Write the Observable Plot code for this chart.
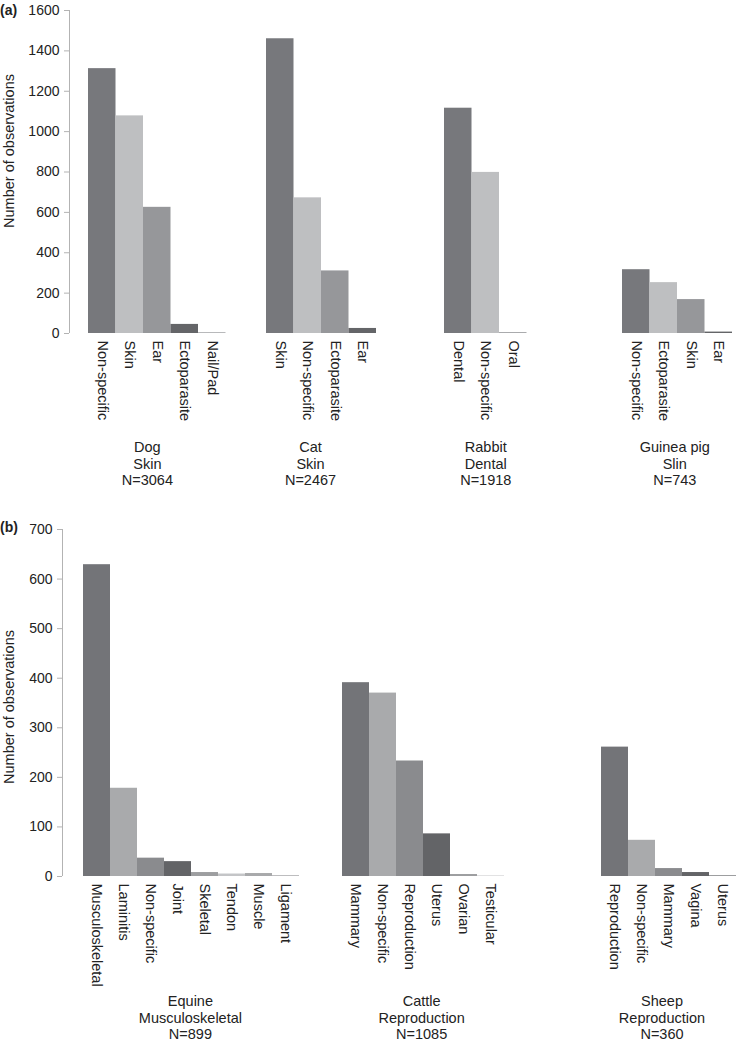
<!DOCTYPE html>
<html><head><meta charset="utf-8">
<script src="https://cdn.jsdelivr.net/npm/d3@7"></script>
<script src="https://cdn.jsdelivr.net/npm/@observablehq/plot@0.6"></script>
<style>
body{margin:0;background:#fff;font-family:"Liberation Sans",Arial,sans-serif}
#wrap{position:relative;width:737px;height:1044px}
.tag{position:absolute;left:0;font-weight:bold;font-size:14px;color:#222;z-index:2}
svg{display:block}
</style></head>
<body><div id="wrap"><div class="tag" style="top:2px">(a)</div><div class="tag" style="top:519px">(b)</div></div>
<script>
// Panel (a)
const aGroups = ["Dog", "Cat", "Rabbit", "Guinea pig"];
const aSystems = ["Skin", "Skin", "Dental", "Slin"];
const aN = [3064, 2467, 1918, 743];
const aCategories = [
  ["Non-specific", "Skin", "Ear", "Ectoparasite", "Nail/Pad"],
  ["Skin", "Non-specific", "Ectoparasite", "Ear"],
  ["Dental", "Non-specific", "Oral"],
  ["Non-specific", "Ectoparasite", "Skin", "Ear"]
];
const aValues = [
  [1312, 1078, 625, 45, 4],
  [1460, 672, 310, 25],
  [1116, 798, 4],
  [316, 252, 168, 7]
];
const aColors = ["#77787c", "#bebfc1", "#96979a", "#646568", "#a8a9ab"];
const aTicks = [0, 200, 400, 600, 800, 1000, 1200, 1400, 1600];
const aLabelShift = [-0.36, -0.4, 0, -0.1]; // group label offset, in bar widths

// Panel (b)
const bGroups = ["Equine", "Cattle", "Sheep"];
const bSystems = ["Musculoskeletal", "Reproduction", "Reproduction"];
const bN = [899, 1085, 360];
const bCategories = [
  ["Musculoskeletal", "Laminitis", "Non-specific", "Joint", "Skeletal", "Tendon", "Muscle", "Ligament"],
  ["Mammary", "Non-specific", "Reproduction", "Uterus", "Ovarian", "Testicular"],
  ["Reproduction", "Non-specific", "Mammary", "Vagina", "Uterus"]
];
const bValues = [
  [629, 178, 37, 30, 8, 5, 6, 2],
  [391, 370, 233, 86, 4, 1],
  [261, 73, 16, 8, 2]
];
const bColors = ["#737478", "#a9aaac", "#8a8b8e", "#636467", "#9d9ea0", "#c4c5c7", "#a8a9ab", "#bdbdbf"];
const bTicks = [0, 100, 200, 300, 400, 500, 600, 700];
const bLabelShift = [-0.04, -0.07, -0.26];

function panel(p) {
  const rows = [];
  p.groups.forEach((g, gi) => p.cats[gi].forEach((c, i) =>
    rows.push({group: g, idx: i, cat: c, value: p.vals[gi][i], color: p.colors[i]})));
  const glabels = p.groups.map((g, gi) => ({group: g, n: p.cats[gi].length, shift: p.shift[gi],
    text: `${g}\n${p.systems[gi]}\nN=${p.ns[gi]}`}));
  const yMax = p.ticks[p.ticks.length - 1];
  return Plot.plot({
    width: 737, height: p.height,
    marginTop: p.marginTop, marginBottom: p.marginBottom,
    marginLeft: p.marginLeft, marginRight: p.marginRight,
    style: {fontFamily: '"Liberation Sans", Arial, sans-serif', fontSize: "14px", color: "#222", background: "#fff"},
    fx: {domain: p.groups, axis: null, paddingInner: p.pad, paddingOuter: 0},
    x: {domain: [0, p.slots], insetLeft: p.inset, axis: null},
    y: {domain: [0, yMax]},
    color: {type: "identity"},
    marks: [
      Plot.ruleX([{group: p.groups[0]}], {fx: "group", x: 0, y1: 0, y2: yMax, dx: -p.inset, stroke: "#b3b3b3"}),
      Plot.axisY({ticks: p.ticks, tickFormat: "d", tickSize: 5, tickPadding: 5, stroke: "#b3b3b3", fontSize: 14, label: null}),
      Plot.rectY(rows, {fx: "group", x1: "idx", x2: d => d.idx + 1, y: "value", fill: "color"}),
      Plot.text(rows, {fx: "group", x: d => d.idx + 0.5, y: 0, text: "cat", rotate: 90, textAnchor: "start", dy: 7, fontSize: 14.5, fill: "#222"}),
      Plot.text(glabels, {fx: "group", x: d => d.n / 2 + d.shift, y: 0, text: "text", lineAnchor: "top", lineHeight: 1.17, dy: p.labelDy, fontSize: 14.5, fill: "#222"}),
      Plot.text([{group: p.groups[0]}], {fx: "group", frameAnchor: "left", textAnchor: "middle", rotate: -90, text: () => "Number of observations", dx: p.yLabelDx, dy: p.yLabelDy, fontSize: 14.5, fill: "#222"})
    ]
  });
}

const wrap = document.getElementById("wrap");
wrap.append(panel({
  groups: aGroups, systems: aSystems, ns: aN, cats: aCategories, vals: aValues, colors: aColors, ticks: aTicks, shift: aLabelShift,
  height: 493, marginTop: 10, marginBottom: 160, marginLeft: 68, marginRight: 3,
  inset: 19, slots: 4, pad: 0.2733, labelDy: 106, yLabelDx: -60, yLabelDy: -21
}));
wrap.append(panel({
  groups: bGroups, systems: bSystems, ns: bN, cats: bCategories, vals: bValues, colors: bColors, ticks: bTicks, shift: bLabelShift,
  height: 551, marginTop: 36, marginBottom: 168, marginLeft: 62, marginRight: 1,
  inset: 21, slots: 5, pad: 0.398, labelDy: 117, yLabelDx: -53, yLabelDy: 4
}));
</script>
</body></html>
